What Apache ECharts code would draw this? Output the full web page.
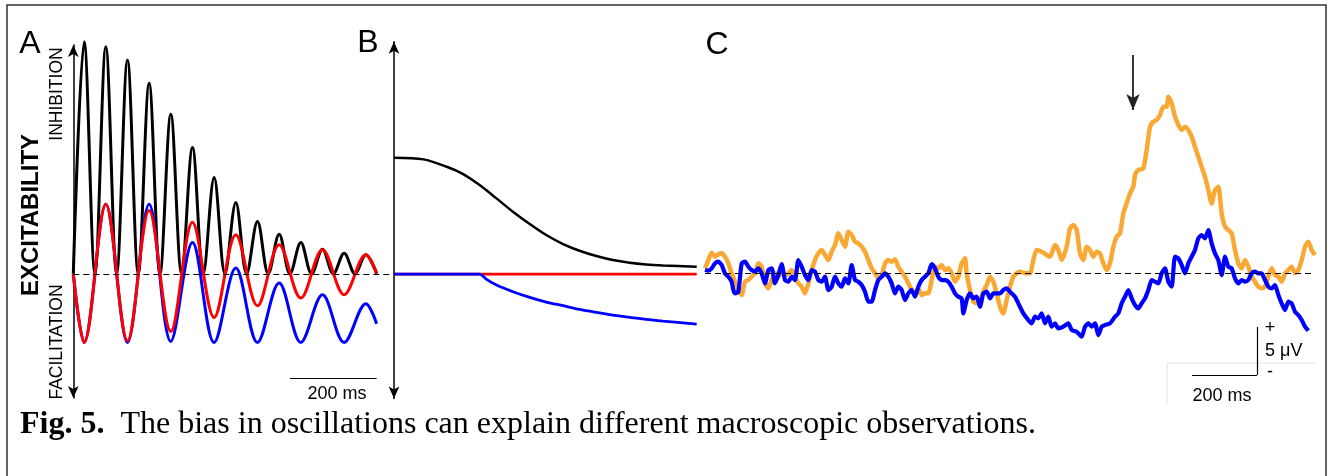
<!DOCTYPE html>
<html lang="en" style="height: 100%">
<head>
  <meta charset="utf-8">
</head>
<body style="height: 100%; margin: 0; background: #fff">
  <div id="container" style="width: 1328px; height: 476px"></div>
  <script type="text/javascript" src="https://fastly.jsdelivr.net/npm/echarts@6/dist/echarts.min.js"></script>
  <script type="text/javascript">
    // panel A: extrema of the model oscillations (ms, arbitrary excitability units)
    var tBlackA = [0, 25, 50, 75, 100, 125, 150, 175, 200, 225, 250, 275, 300, 325, 350,
      375, 400, 425, 450, 475, 500, 525, 550, 575, 600, 625, 650, 675, 700];
    var blackA = [0, 6.97, 0, 6.82, 0, 6.42, 0, 5.72, 0, 4.79, 0, 3.79, 0, 2.89, 0,
      2.14, 0, 1.57, 0, 1.19, 0, 0.94, 0, 0.74, 0, 0.62, 0, 0.57, 0];
    var tColorA = [0, 25, 75, 125, 175, 225, 275, 325, 375, 425, 475, 525, 575, 625, 675, 700];
    var redA = [0, -2.06, 2.09, -2.01, 1.90, -1.73, 1.55, -1.31, 1.17, -0.96, 0.87, -0.73, 0.72, -0.63, 0.57, 0.02];
    var blueA = [0, -2.06, 2.09, -2.06, 2.09, -2.03, 0.94, -2.06, 0.17, -2.06, -0.28, -2.06, -0.63, -2.06, -0.90, -1.50];

    // panel B: mean level
    var tBlackB = [0, 68, 122, 160, 198, 237, 275, 314, 352, 391, 429, 468, 506, 545, 583, 622, 700];
    var blackB = [3.49, 3.44, 3.22, 3.0, 2.67, 2.27, 1.87, 1.5, 1.17, 0.9, 0.7, 0.54, 0.42, 0.34, 0.29, 0.26, 0.22];
    var tBlueB = [0, 198, 214, 237, 275, 314, 352, 391, 429, 468, 506, 545, 583, 622, 700];
    var blueB = [0, 0, -0.16, -0.33, -0.53, -0.70, -0.84, -0.95, -1.06, -1.15, -1.23, -1.30, -1.36, -1.41, -1.50];
    var tRedB = [0, 700];
    var redB = [0, 0];

    // panel C: recorded traces [time, amplitude]
    var orangeC = [[0,15],[10,40],[20,62],[30,50],[40,57],[50,60],[60,50],[70,30],[80,0],[90,-25],[100,-50],[110,-65],
      [120,-25],[130,-20],[140,-10],[150,0],[160,30],[170,20],[180,-30],[190,-45],[200,-20],[210,0],[220,-10],[230,5],
      [240,-5],[250,0],[260,10],[270,-10],[280,-30],[290,-40],[300,-60],[310,-30],[320,10],[330,40],[340,60],[350,70],
      [360,55],[370,40],[380,65],[390,85],[400,120],[410,100],[420,80],[430,125],[440,115],[450,95],[460,90],[470,80],
      [480,65],[490,40],[500,15],[510,0],[520,-15],[530,-5],[540,30],[550,40],[560,35],[570,42],[580,20],[590,5],
      [600,-10],[610,-30],[620,-50],[630,-65],[640,-45],[650,-65],[660,-60],[670,-60],[680,-20],[690,20],[700,15],
      [710,25],[720,10],[730,15],[740,0],[750,-25],[760,-10],[770,30],[780,45],[785,0],[795,-50],[805,-85],[815,-90],
      [825,-80],[835,-55],[845,-35],[855,-10],[865,-25],[875,-60],[885,-100],[895,-120],[905,-80],[915,-40],[925,-10],
      [935,0],[945,5],[960,0],[975,0],[985,40],[995,70],[1010,65],[1025,55],[1035,50],[1050,85],[1060,70],[1070,40],
      [1085,80],[1095,135],[1105,145],[1115,130],[1125,60],[1135,40],[1145,80],[1155,70],[1165,50],[1175,65],[1185,60],
      [1195,30],[1205,10],[1215,30],[1225,80],[1235,110],[1245,120],[1255,180],[1265,210],[1275,240],[1285,260],
      [1290,295],[1300,310],[1315,315],[1325,370],[1335,440],[1345,455],[1355,460],[1365,475],[1375,500],[1385,500],
      [1390,530],[1400,510],[1410,470],[1420,445],[1430,430],[1440,440],[1450,430],[1460,410],[1470,380],[1480,350],
      [1490,320],[1500,290],[1510,250],[1520,210],[1530,250],[1540,260],[1550,180],[1560,140],[1570,130],[1580,120],
      [1590,70],[1600,30],[1610,15],[1620,40],[1630,20],[1640,-10],[1650,-25],[1660,-40],[1670,-45],[1680,-40],
      [1690,-10],[1700,15],[1710,-5],[1720,-10],[1730,-25],[1740,0],[1750,10],[1760,20],[1770,0],[1780,10],[1790,40],
      [1800,80],[1810,95],[1820,70],[1830,55]];
    var blueC = [[0,10],[10,8],[20,15],[30,30],[40,35],[50,25],[60,0],[70,-10],[80,-25],[85,-50],[90,-60],[100,-55],
      [110,30],[120,35],[130,20],[140,10],[150,5],[160,15],[170,0],[180,-30],[190,10],[200,15],[210,-30],[220,-5],
      [230,28],[240,-20],[250,-25],[260,-10],[270,-20],[280,40],[290,20],[300,-5],[310,-20],[320,10],[330,5],[340,-20],
      [350,-25],[360,-10],[370,-50],[380,-40],[390,-10],[400,-30],[410,-40],[420,-15],[430,-30],[440,25],[450,-20],
      [460,-25],[470,-35],[480,-55],[490,-85],[500,-85],[510,-50],[520,-20],[530,-10],[540,0],[550,-10],[560,-30],
      [570,-60],[580,-40],[590,-50],[600,-80],[610,-60],[620,-50],[630,-70],[640,-40],[650,-20],[660,-10],[670,0],
      [680,28],[690,15],[700,-10],[710,-20],[720,-20],[730,-25],[740,-40],[750,-60],[760,-70],[770,-75],[775,-120],
      [785,-80],[795,-60],[805,-75],[815,-70],[825,-100],[835,-60],[845,-55],[855,-75],[865,-60],[875,-60],[885,-60],
      [895,-50],[905,-45],[915,-55],[930,-70],[940,-90],[955,-120],[970,-140],[980,-150],[990,-130],[1000,-135],
      [1010,-120],[1020,-150],[1030,-130],[1040,-160],[1050,-150],[1060,-165],[1075,-160],[1090,-150],[1100,-170],
      [1115,-175],[1130,-190],[1140,-160],[1150,-150],[1160,-160],[1170,-150],[1180,-185],[1190,-160],[1200,-155],
      [1215,-150],[1230,-130],[1240,-120],[1250,-90],[1260,-70],[1270,-50],[1280,-75],[1290,-95],[1300,-105],
      [1310,-90],[1320,-75],[1330,-50],[1340,-20],[1350,-25],[1360,-30],[1370,0],[1380,15],[1390,-25],[1400,-40],
      [1410,50],[1420,45],[1430,25],[1440,0],[1450,30],[1460,50],[1470,70],[1480,105],[1490,115],[1500,105],
      [1510,130],[1520,90],[1530,60],[1540,40],[1550,-5],[1560,50],[1570,20],[1580,15],[1590,-15],[1600,-30],
      [1610,-20],[1620,-25],[1630,-20],[1640,0],[1650,5],[1660,0],[1670,0],[1680,-20],[1690,-40],[1700,-45],
      [1710,-35],[1720,-65],[1730,-90],[1740,-110],[1750,-85],[1760,-90],[1770,-115],[1780,-125],[1790,-140],
      [1800,-160],[1810,-172]];

    function pairs(ts, vs) {
      return ts.map(function (t, i) { return [t, vs[i]]; });
    }

    var dom = document.getElementById('container');
    var myChart = echarts.init(dom, null, { renderer: 'canvas' });

    var sans = 'Liberation Sans';
    var dashed = {
      silent: true, symbol: 'none', label: { show: false },
      lineStyle: { color: '#000', width: 1.2, type: [6, 4] },
      data: [{ yAxis: 0 }]
    };
    var plainBar = { color: '#000', width: 1.2, type: 'solid' };
    var hidden = { show: false };
    var arrowAxis = {
      show: true, onZero: false, symbol: ['arrow', 'arrow'], symbolSize: [8, 12],
      lineStyle: { color: '#000', width: 1.5 }
    };

    function txt(text, x, y, size, extra) {
      var s = { text: text, x: x, y: y, font: size + 'px "' + sans + '"', fill: '#000', align: 'center', verticalAlign: 'middle' };
      for (var k in extra) s[k] = extra[k];
      return { type: 'text', style: s };
    }

    var option = {
      animation: false,
      grid: [
        { left: 73.3, top: 45, width: 316.8, height: 353 },
        { left: 394, top: 41.7, width: 302.7, height: 356.7 },
        { left: 705, top: 46.7, width: 610, height: 360 }
      ],
      xAxis: [
        { type: 'value', gridIndex: 0, min: 0, max: 731, show: false },
        { type: 'value', gridIndex: 1, min: 0, max: 700, show: false },
        { type: 'value', gridIndex: 2, min: 0, max: 1830, show: false }
      ],
      yAxis: [
        { type: 'value', gridIndex: 0, min: -3.73, max: 6.87, axisLine: arrowAxis, axisTick: hidden, axisLabel: hidden, splitLine: hidden },
        { type: 'value', gridIndex: 1, min: -3.73, max: 6.97, axisLine: arrowAxis, axisTick: hidden, axisLabel: hidden, splitLine: hidden },
        { type: 'value', gridIndex: 2, min: -400, max: 680, show: false }
      ],
      series: [
        {
          type: 'line', xAxisIndex: 0, yAxisIndex: 0, data: pairs(tBlackA, blackA),
          smooth: 0.35, showSymbol: false, clip: false,
          lineStyle: { color: '#000', width: 3 }, markLine: dashed
        },
        {
          type: 'line', xAxisIndex: 0, yAxisIndex: 0, data: pairs(tColorA, blueA),
          smooth: 0.35, showSymbol: false, clip: false,
          lineStyle: { color: '#0000ff', width: 3 },
          markLine: {
            silent: true, symbol: 'none', label: { show: false }, lineStyle: plainBar,
            data: [[{ coord: [500, -3.15] }, { coord: [700, -3.15] }]]
          }
        },
        {
          type: 'line', xAxisIndex: 0, yAxisIndex: 0, data: pairs(tColorA, redA),
          smooth: 0.35, showSymbol: false, clip: false,
          lineStyle: { color: '#ff0000', width: 3 }
        },
        {
          type: 'line', xAxisIndex: 1, yAxisIndex: 1, data: pairs(tBlackB, blackB),
          smooth: 0.3, showSymbol: false, lineStyle: { color: '#000', width: 2.5 }
        },
        {
          type: 'line', xAxisIndex: 1, yAxisIndex: 1, data: pairs(tRedB, redB),
          showSymbol: false, lineStyle: { color: '#ff0000', width: 2.8 }
        },
        {
          type: 'line', xAxisIndex: 1, yAxisIndex: 1, data: pairs(tBlueB, blueB),
          smooth: 0.3, showSymbol: false, lineStyle: { color: '#0000ff', width: 2.8 }
        },
        {
          type: 'line', xAxisIndex: 2, yAxisIndex: 2, data: orangeC,
          smooth: 0.2, showSymbol: false, lineStyle: { color: '#f9a834', width: 4.5 },
          markLine: dashed
        },
        {
          type: 'line', xAxisIndex: 2, yAxisIndex: 2, data: blueC,
          smooth: 0.2, showSymbol: false, lineStyle: { color: '#0000ff', width: 4.2 },
          markLine: {
            silent: true, label: { show: false }, lineStyle: plainBar,
            data: [
              [{ coord: [1461, -305], symbol: 'none' }, { coord: [1656, -305], symbol: 'none' }],
              [{ coord: [1656, -305], symbol: 'none' }, { coord: [1656, -161], symbol: 'none' }],
              [{ coord: [1284, 655], symbol: 'none', lineStyle: { width: 1.8, color: '#222' } },
                { coord: [1284, 490], symbol: 'arrow', symbolSize: [10, 16] }]
            ]
          }
        }
      ],
      graphic: [
        {
          type: 'polyline', silent: true,
          shape: { points: [[7, 476], [7, 5], [1326, 5], [1326, 476]] },
          style: { stroke: '#333', lineWidth: 1.5, fill: null }
        },
        { type: 'line', shape: { x1: 1167, y1: 363, x2: 1167, y2: 405 }, style: { stroke: '#e4e4e4', lineWidth: 1 } },
        { type: 'line', shape: { x1: 1167, y1: 363, x2: 1316, y2: 363 }, style: { stroke: '#e4e4e4', lineWidth: 1 } },
        txt('A', 30, 44, 32),
        txt('B', 368, 43, 32),
        txt('C', 717, 45, 32),
        txt('INHIBITION', 57, 94, 17.5, {}),
        txt('FACILITATION', 57, 342, 17.5, {}),
        txt('EXCITABILITY', 31, 215, 24, { font: 'bold 24px "' + sans + '"' }),
        txt('200 ms', 337, 394, 18),
        txt('+', 1270, 328, 18),
        txt('5 \u03bcV', 1265, 351, 18, { align: 'left' }),
        txt('-', 1270, 372, 18),
        txt('200 ms', 1222, 396, 18),
        {
          type: 'text',
          style: {
            text: '{b|Fig. 5.}  The bias in oscillations can explain different macroscopic observations.',
            x: 20, y: 425, font: '32px "Liberation Serif"', fill: '#000', verticalAlign: 'middle',
            rich: { b: { font: 'bold 32px "Liberation Serif"', fill: '#000' } }
          }
        }
      ]
    };

    // rotate the vertical labels
    [6, 7, 8].forEach(function (i) {
      option.graphic[i].rotation = Math.PI / 2;
      option.graphic[i].x = option.graphic[i].style.x;
      option.graphic[i].y = option.graphic[i].style.y;
      option.graphic[i].style.x = 0;
      option.graphic[i].style.y = 0;
    });

    myChart.setOption(option);
    window.addEventListener('resize', myChart.resize);
  </script>
</body>
</html>
